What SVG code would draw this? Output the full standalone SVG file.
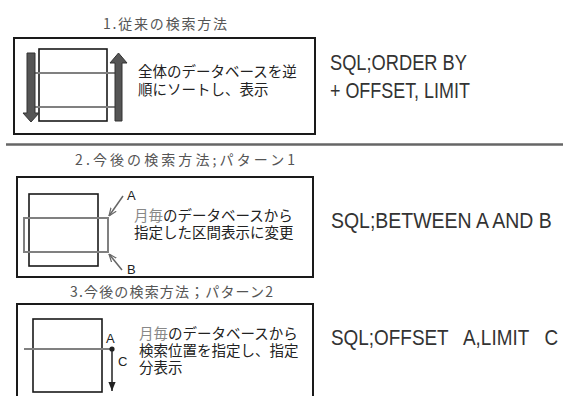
<svg xmlns="http://www.w3.org/2000/svg" width="563" height="396" viewBox="0 0 563 396">
<style>
.frame{fill:#fff;stroke:#1a1a1a;stroke-width:2}
.inner{fill:#fff;stroke:#1a1a1a;stroke-width:1.6}
.gline{fill:none;stroke:#808080;stroke-width:2}
.title{font-family:"Noto Sans CJK JP","Liberation Sans",sans-serif;font-size:14px;fill:#555}
.body{font-family:"Liberation Sans","Noto Sans CJK JP",sans-serif;font-size:14.5px;fill:#222}
.gray{fill:#888}
.sql{font-family:"Liberation Sans","Noto Sans",sans-serif;font-size:22px;fill:#333;white-space:pre}
.lbl{font-family:"Liberation Sans",sans-serif;font-size:13px;fill:#222}
.bigarrow{fill:#555;stroke:#333;stroke-width:1}
</style>
<defs>
<marker id="vhead" viewBox="0 0 10 10" refX="10" refY="5" markerWidth="8" markerHeight="8" orient="auto" markerUnits="userSpaceOnUse">
<path d="M0,1 L10,5 L0,9" fill="none" stroke="#666" stroke-width="1.5"/>
</marker>
<marker id="bhead" viewBox="0 0 10 10" refX="10" refY="5" markerWidth="9" markerHeight="9" orient="auto" markerUnits="userSpaceOnUse">
<path d="M0,1 L10,5 L0,9 Z" fill="#222"/>
</marker>
</defs>

<g id="separator"><line x1="6" y1="144.5" x2="563" y2="144.5" stroke="#666" stroke-width="2.5"/></g>

<g id="section1">
<text class="title" x="103" y="29" textLength="124" lengthAdjust="spacing">1.従来の検索方法</text>
<rect class="frame" x="14" y="38" width="301" height="96"/>
<rect class="inner" x="39" y="49" width="68" height="72"/>
<line class="gline" x1="35" y1="73" x2="116" y2="73"/>
<line class="gline" x1="35" y1="107" x2="116" y2="107"/>
<polygon class="bigarrow" points="27,53 35,53 35,113 39,113 31,122 23,113 27,113"/>
<polygon class="bigarrow" points="115,121 122,121 122,63 127,63 118.5,53 110,63 115,63"/>
<text class="body" x="138" y="77" font-size="15">全体のデータベースを逆</text>
<text class="body" x="138" y="95" font-size="15">順にソートし、表示</text>
<text class="sql" transform="translate(330,70) scale(0.83,1)">SQL;ORDER BY</text>
<text class="sql" transform="translate(330,98) scale(0.815,1)">+ OFFSET, LIMIT</text>
</g>

<g id="section2">
<text class="title" x="75" y="165" textLength="220" lengthAdjust="spacing">2.今後の検索方法;パターン1</text>
<rect class="frame" x="17" y="177" width="296" height="100"/>
<rect class="inner" x="29" y="194" width="69" height="72"/>
<rect class="gline" x="24" y="218" width="84" height="34"/>
<text class="lbl" x="127" y="200">A</text>
<text class="lbl" x="127" y="274">B</text>
<text class="body" x="134" y="221"><tspan class="gray">月毎</tspan>のデータベースから</text>
<text class="body" x="134" y="238">指定した区間表示に変更</text>
<text class="sql" transform="translate(331,228) scale(0.885,1)">SQL;BETWEEN A AND B</text>
</g>

<g id="section3">
<text class="title" x="70" y="297" textLength="203" lengthAdjust="spacing">3.今後の検索方法；パターン2</text>
<rect class="frame" x="17" y="304" width="296" height="110"/>
<rect class="inner" x="33" y="319" width="69" height="73"/>
<line class="gline" x1="24" y1="349" x2="113" y2="349"/>
<circle cx="112" cy="349" r="2.6" fill="#222"/>
<text class="lbl" x="106" y="343">A</text>
<text class="lbl" x="118" y="366">C</text>
<text class="body" x="139" y="339"><tspan class="gray">月毎</tspan>のデータベースから</text>
<text class="body" x="139" y="356">検索位置を指定し、指定</text>
<text class="body" x="139" y="373">分表示</text>
<text class="sql" transform="translate(331,345) scale(0.86,1)" xml:space="preserve">SQL;OFFSET   A,LIMIT   C</text>
</g>

<g id="connectors">
<line x1="123" y1="196" x2="109" y2="216" stroke="#666" stroke-width="1.5" marker-end="url(#vhead)"/>
<line x1="122" y1="270" x2="109" y2="254" stroke="#666" stroke-width="1.5" marker-end="url(#vhead)"/>
<line x1="112" y1="349" x2="112" y2="391" stroke="#222" stroke-width="1.5" marker-end="url(#bhead)"/>
</g>
</svg>
